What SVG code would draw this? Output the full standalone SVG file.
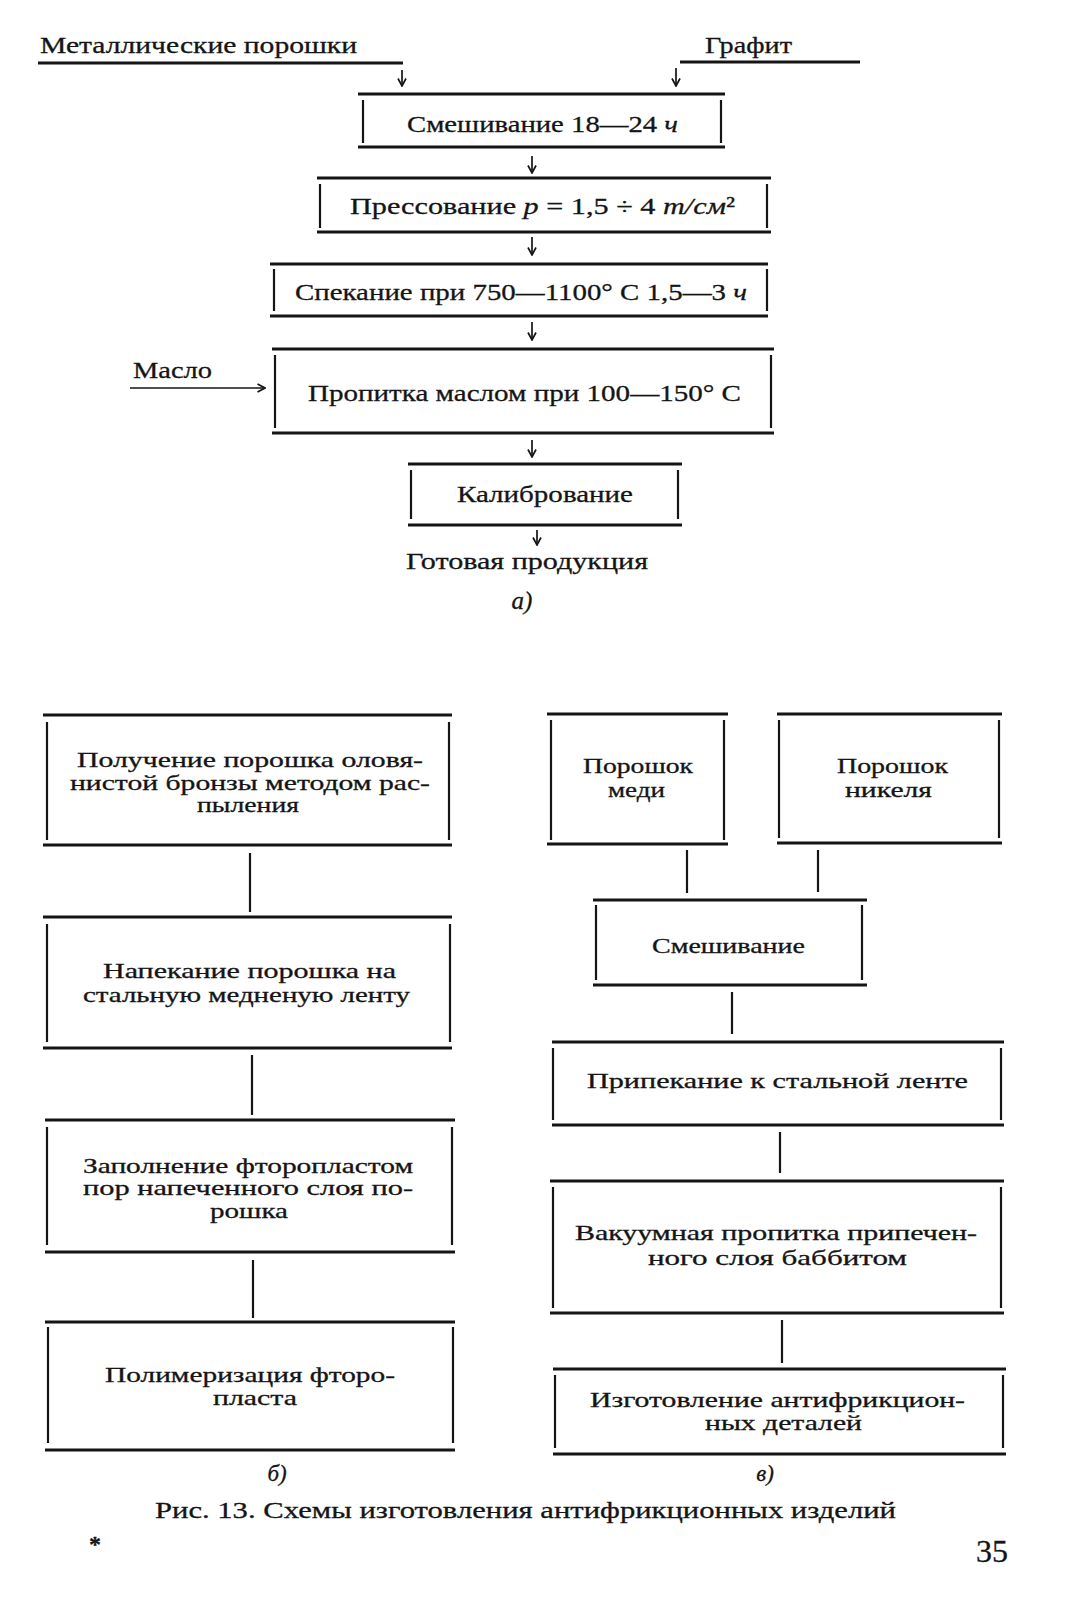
<svg xmlns="http://www.w3.org/2000/svg" width="1081" height="1600" viewBox="0 0 1081 1600">
<style>
.h{stroke:#151515;stroke-width:2.8;fill:none}
.v{stroke:#151515;stroke-width:2.2;fill:none}
.c{stroke:#151515;stroke-width:2.2;fill:none}
.a{stroke:#151515;stroke-width:1.7;fill:none}
text{font-family:"Liberation Serif","DejaVu Serif",serif;fill:#151515;stroke:#151515;stroke-width:0.3}
.t1{font-size:24px}
.t2{font-size:21px}
.m{text-anchor:middle}
.i{font-style:italic}
</style>
<defs>
<marker id="ah" viewBox="0 0 10 10" refX="9.5" refY="5" markerWidth="10" markerHeight="10" markerUnits="userSpaceOnUse" orient="auto">
<path d="M2,1 L9.5,5 L2,9" fill="none" stroke="#151515" stroke-width="1.7"/>
</marker>
</defs>
<rect width="1081" height="1600" fill="#fff"/>

<!-- Scheme a -->
<g id="in-metal">
<text class="t1" x="40" y="53" textLength="317" lengthAdjust="spacingAndGlyphs">Металлические порошки</text>
<line class="h" x1="38" y1="63" x2="403" y2="63"/>
</g>
<g id="in-graphite">
<text class="t1" x="705" y="53" textLength="87" lengthAdjust="spacingAndGlyphs">Графит</text>
<line class="h" x1="680" y1="62" x2="860" y2="62"/>
</g>
<g id="a1">
<line class="h" x1="358" y1="94" x2="725" y2="94"/>
<line class="h" x1="358" y1="147" x2="725" y2="147"/>
<line class="v" x1="363" y1="100" x2="363" y2="143"/>
<line class="v" x1="721" y1="100" x2="721" y2="143"/>
<text class="t1" x="407" y="132" textLength="271" lengthAdjust="spacingAndGlyphs">Смешивание 18—24 <tspan class="i">ч</tspan></text>
</g>
<g id="a2">
<line class="h" x1="317" y1="178" x2="771" y2="178"/>
<line class="h" x1="317" y1="232" x2="771" y2="232"/>
<line class="v" x1="320" y1="184" x2="320" y2="228"/>
<line class="v" x1="767" y1="184" x2="767" y2="228"/>
<text class="t1" x="350" y="214" textLength="385" lengthAdjust="spacingAndGlyphs">Прессование <tspan class="i">p</tspan> = 1,5 ÷ 4 <tspan class="i">т/см</tspan>²</text>
</g>
<g id="a3">
<line class="h" x1="270" y1="264" x2="768" y2="264"/>
<line class="h" x1="270" y1="316" x2="768" y2="316"/>
<line class="v" x1="274" y1="269" x2="274" y2="311"/>
<line class="v" x1="767" y1="269" x2="767" y2="311"/>
<text class="t1" x="295" y="300" textLength="452" lengthAdjust="spacingAndGlyphs">Спекание при 750—1100° С 1,5—3 <tspan class="i">ч</tspan></text>
</g>
<g id="in-oil">
<text class="t1" x="133" y="378" textLength="79" lengthAdjust="spacingAndGlyphs">Масло</text>
</g>
<g id="a4">
<line class="h" x1="272" y1="349" x2="774" y2="349"/>
<line class="h" x1="272" y1="433" x2="774" y2="433"/>
<line class="v" x1="275" y1="355" x2="275" y2="428"/>
<line class="v" x1="771" y1="355" x2="771" y2="428"/>
<text class="t1" x="308" y="401" textLength="433" lengthAdjust="spacingAndGlyphs">Пропитка маслом при 100—150° С</text>
</g>
<g id="a5">
<line class="h" x1="408" y1="464" x2="682" y2="464"/>
<line class="h" x1="408" y1="525" x2="682" y2="525"/>
<line class="v" x1="411" y1="470" x2="411" y2="519"/>
<line class="v" x1="678" y1="470" x2="678" y2="519"/>
<text class="t1" x="457" y="502" textLength="176" lengthAdjust="spacingAndGlyphs">Калибрование</text>
</g>
<g id="out-product">
<text class="t1" x="406" y="569" textLength="242" lengthAdjust="spacingAndGlyphs">Готовая продукция</text>
</g>
<text class="t1 i m" x="522" y="609" style="font-size:25px">а)</text>

<!-- Scheme b -->
<g id="b1">
<line class="h" x1="43" y1="715" x2="452" y2="715"/>
<line class="h" x1="43" y1="845" x2="452" y2="845"/>
<line class="v" x1="47" y1="722" x2="47" y2="840"/>
<line class="v" x1="449" y1="722" x2="449" y2="840"/>
<text class="t2" x="77" y="767" textLength="346" lengthAdjust="spacingAndGlyphs">Получение порошка оловя-</text>
<text class="t2" x="70" y="790" textLength="360" lengthAdjust="spacingAndGlyphs">нистой бронзы методом рас-</text>
<text class="t2" x="197" y="812" textLength="102" lengthAdjust="spacingAndGlyphs">пыления</text>
</g>
<g id="b2">
<line class="h" x1="43" y1="917" x2="452" y2="917"/>
<line class="h" x1="43" y1="1048" x2="452" y2="1048"/>
<line class="v" x1="47" y1="924" x2="47" y2="1042"/>
<line class="v" x1="450" y1="924" x2="450" y2="1042"/>
<text class="t2" x="103" y="978" textLength="293" lengthAdjust="spacingAndGlyphs">Напекание порошка на</text>
<text class="t2" x="83" y="1002" textLength="327" lengthAdjust="spacingAndGlyphs">стальную медненую ленту</text>
</g>
<g id="b3">
<line class="h" x1="45" y1="1120" x2="455" y2="1120"/>
<line class="h" x1="45" y1="1252" x2="455" y2="1252"/>
<line class="v" x1="47" y1="1127" x2="47" y2="1245"/>
<line class="v" x1="452" y1="1127" x2="452" y2="1245"/>
<text class="t2" x="83" y="1173" textLength="330" lengthAdjust="spacingAndGlyphs">Заполнение фторопластом</text>
<text class="t2" x="83" y="1195" textLength="330" lengthAdjust="spacingAndGlyphs">пор напеченного слоя по-</text>
<text class="t2" x="210" y="1218" textLength="78" lengthAdjust="spacingAndGlyphs">рошка</text>
</g>
<g id="b4">
<line class="h" x1="45" y1="1322" x2="455" y2="1322"/>
<line class="h" x1="45" y1="1450" x2="455" y2="1450"/>
<line class="v" x1="48" y1="1327" x2="48" y2="1443"/>
<line class="v" x1="453" y1="1327" x2="453" y2="1443"/>
<text class="t2" x="105" y="1382" textLength="290" lengthAdjust="spacingAndGlyphs">Полимеризация фторо-</text>
<text class="t2" x="213" y="1405" textLength="84" lengthAdjust="spacingAndGlyphs">пласта</text>
</g>
<text class="t2 i m" x="277" y="1481" style="font-size:23px">б)</text>

<!-- Scheme c -->
<g id="c1">
<line class="h" x1="547" y1="714" x2="728" y2="714"/>
<line class="h" x1="547" y1="844" x2="728" y2="844"/>
<line class="v" x1="551" y1="720" x2="551" y2="840"/>
<line class="v" x1="724" y1="720" x2="724" y2="840"/>
<text class="t2" x="583" y="773" textLength="110" lengthAdjust="spacingAndGlyphs">Порошок</text>
<text class="t2" x="608" y="797" textLength="57" lengthAdjust="spacingAndGlyphs">меди</text>
</g>
<g id="c2">
<line class="h" x1="777" y1="714" x2="1002" y2="714"/>
<line class="h" x1="777" y1="843" x2="1002" y2="843"/>
<line class="v" x1="779" y1="720" x2="779" y2="838"/>
<line class="v" x1="999" y1="720" x2="999" y2="838"/>
<text class="t2" x="837" y="773" textLength="111" lengthAdjust="spacingAndGlyphs">Порошок</text>
<text class="t2" x="845" y="797" textLength="87" lengthAdjust="spacingAndGlyphs">никеля</text>
</g>
<g id="c3">
<line class="h" x1="593" y1="900" x2="867" y2="900"/>
<line class="h" x1="593" y1="985" x2="867" y2="985"/>
<line class="v" x1="596" y1="905" x2="596" y2="980"/>
<line class="v" x1="862" y1="905" x2="862" y2="980"/>
<text class="t2" x="652" y="953" textLength="153" lengthAdjust="spacingAndGlyphs">Смешивание</text>
</g>
<g id="c4">
<line class="h" x1="552" y1="1042" x2="1004" y2="1042"/>
<line class="h" x1="552" y1="1125" x2="1004" y2="1125"/>
<line class="v" x1="553" y1="1048" x2="553" y2="1120"/>
<line class="v" x1="1001" y1="1048" x2="1001" y2="1120"/>
<text class="t2" x="587" y="1088" textLength="381" lengthAdjust="spacingAndGlyphs">Припекание к стальной ленте</text>
</g>
<g id="c5">
<line class="h" x1="550" y1="1181" x2="1004" y2="1181"/>
<line class="h" x1="550" y1="1313" x2="1004" y2="1313"/>
<line class="v" x1="553" y1="1187" x2="553" y2="1308"/>
<line class="v" x1="1001" y1="1187" x2="1001" y2="1308"/>
<text class="t2" x="575" y="1240" textLength="402" lengthAdjust="spacingAndGlyphs">Вакуумная пропитка припечен-</text>
<text class="t2" x="648" y="1265" textLength="259" lengthAdjust="spacingAndGlyphs">ного слоя баббитом</text>
</g>
<g id="c6">
<line class="h" x1="553" y1="1369" x2="1006" y2="1369"/>
<line class="h" x1="553" y1="1454" x2="1006" y2="1454"/>
<line class="v" x1="555" y1="1375" x2="555" y2="1448"/>
<line class="v" x1="1003" y1="1375" x2="1003" y2="1448"/>
<text class="t2" x="590" y="1407" textLength="375" lengthAdjust="spacingAndGlyphs">Изготовление антифрикцион-</text>
<text class="t2" x="705" y="1430" textLength="157" lengthAdjust="spacingAndGlyphs">ных деталей</text>
</g>
<text class="t2 i m" x="765" y="1481" style="font-size:23px">в)</text>

<!-- Connectors -->
<g id="connectors">
<line class="a" x1="402" y1="70" x2="402" y2="86" marker-end="url(#ah)"/>
<line class="a" x1="676" y1="68" x2="676" y2="86" marker-end="url(#ah)"/>
<line class="a" x1="532" y1="156" x2="532" y2="173" marker-end="url(#ah)"/>
<line class="a" x1="532" y1="237" x2="532" y2="255" marker-end="url(#ah)"/>
<line class="a" x1="532" y1="322" x2="532" y2="340" marker-end="url(#ah)"/>
<line class="a" x1="130" y1="388" x2="265" y2="388" marker-end="url(#ah)"/>
<line class="a" x1="532" y1="440" x2="532" y2="457" marker-end="url(#ah)"/>
<line class="a" x1="537" y1="530" x2="537" y2="545" marker-end="url(#ah)"/>
<line class="c" x1="250" y1="853" x2="250" y2="912"/>
<line class="c" x1="252" y1="1055" x2="252" y2="1115"/>
<line class="c" x1="253" y1="1260" x2="253" y2="1318"/>
<line class="c" x1="687" y1="850" x2="687" y2="893"/>
<line class="c" x1="818" y1="850" x2="818" y2="892"/>
<line class="c" x1="732" y1="992" x2="732" y2="1034"/>
<line class="c" x1="780" y1="1132" x2="780" y2="1173"/>
<line class="c" x1="782" y1="1320" x2="782" y2="1363"/>
</g>

<!-- Caption -->
<text class="t2" x="155" y="1518" style="font-size:23px" textLength="741" lengthAdjust="spacingAndGlyphs">Рис. 13. Схемы изготовления антифрикционных изделий</text>
<text x="95" y="1552" style="font-size:24px;font-weight:bold" class="m">*</text>
<text x="976" y="1562" style="font-size:32px" textLength="32" lengthAdjust="spacingAndGlyphs">35</text>
</svg>
